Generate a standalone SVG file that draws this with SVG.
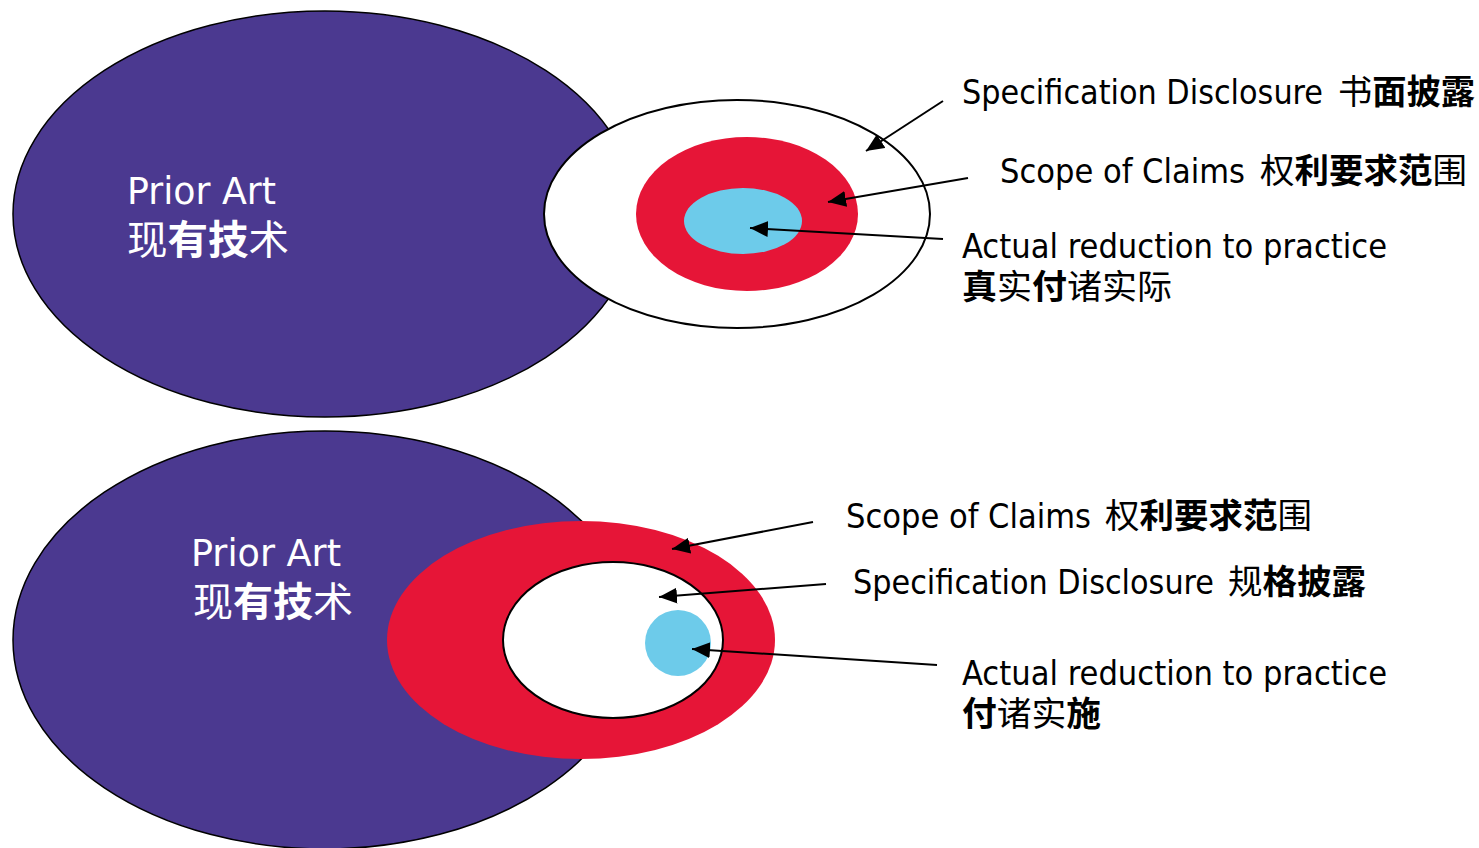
<svg xmlns="http://www.w3.org/2000/svg" width="1479" height="848" viewBox="0 0 1479 848">
<defs>
<style>
.purple{fill:#4B3990;stroke:#000;stroke-width:1.5}
.white{fill:#fff;stroke:#000;stroke-width:2}
.red{fill:#E61537}
.blue{fill:#6DCBEA}
.lbl{font-family:"DejaVu Sans Condensed","DejaVu Sans","Noto Sans CJK SC",sans-serif;font-size:34px;fill:#000}
.cjk{font-family:"Noto Sans CJK SC",sans-serif;font-size:34px}
.w{fill:#fff}
.pa{font-size:37px}
.pc{font-size:40px}
.b{font-weight:bold}
.conn line{stroke:#000;stroke-width:2;marker-end:url(#ah)}
</style>
<marker id="ah" markerUnits="userSpaceOnUse" markerWidth="20" markerHeight="18" refX="18" refY="8" orient="auto">
<path d="M0,0 L18,8 L0,16 Z" fill="#000"/>
</marker>
</defs>
<rect width="1479" height="848" fill="#fff"/>

<g id="top-diagram">
<g id="top-prior-art">
<ellipse class="purple" cx="325" cy="214" rx="312" ry="203"/>
<text class="lbl w"><tspan class="pa" x="127" y="204" textLength="149" lengthAdjust="spacingAndGlyphs">Prior Art</tspan><tspan class="cjk pc" x="127" y="254" textLength="162" lengthAdjust="spacingAndGlyphs">现<tspan class="b">有技</tspan>术</tspan></text>
</g>
<g id="top-spec">
<ellipse class="white" cx="737" cy="214" rx="193" ry="114"/>
</g>
<g id="top-claims">
<ellipse class="red" cx="747" cy="214" rx="111" ry="77"/>
</g>
<g id="top-practice">
<ellipse class="blue" cx="743" cy="221" rx="59" ry="33"/>
</g>
</g>

<g id="bottom-diagram">
<g id="bottom-prior-art">
<ellipse class="purple" cx="325" cy="640" rx="312" ry="209"/>
<text class="lbl w"><tspan class="pa" x="191" y="566" textLength="150" lengthAdjust="spacingAndGlyphs">Prior Art</tspan><tspan class="cjk pc" x="193" y="616" textLength="160" lengthAdjust="spacingAndGlyphs">现<tspan class="b">有技</tspan>术</tspan></text>
</g>
<g id="bottom-claims">
<ellipse class="red" cx="581" cy="640" rx="194" ry="119"/>
</g>
<g id="bottom-spec">
<ellipse class="white" cx="613" cy="640" rx="110" ry="78"/>
</g>
<g id="bottom-practice">
<circle class="blue" cx="678" cy="643" r="33"/>
</g>
</g>

<g id="connectors" class="conn">
<line x1="943" y1="101" x2="866" y2="151"/>
<line x1="968" y1="178" x2="828" y2="202"/>
<line x1="943" y1="239" x2="750" y2="228"/>
<line x1="813" y1="522" x2="672" y2="549"/>
<line x1="826" y1="584" x2="659" y2="597"/>
<line x1="937" y1="665" x2="692" y2="649"/>
</g>

<g id="labels-top">
<text class="lbl"><tspan x="962" y="104" textLength="361" lengthAdjust="spacingAndGlyphs">Specification Disclosure</tspan><tspan class="cjk" x="1338" y="104" textLength="137" lengthAdjust="spacingAndGlyphs">书<tspan class="b">面披露</tspan></tspan></text>
<text class="lbl"><tspan x="1000" y="183" textLength="245" lengthAdjust="spacingAndGlyphs">Scope of Claims</tspan><tspan class="cjk" x="1260" y="183" textLength="207" lengthAdjust="spacingAndGlyphs">权<tspan class="b">利要求范</tspan>围</tspan></text>
<text class="lbl"><tspan x="962" y="258" textLength="425" lengthAdjust="spacingAndGlyphs">Actual reduction to practice</tspan><tspan class="cjk" x="962" y="299" textLength="210" lengthAdjust="spacingAndGlyphs"><tspan class="b">真</tspan>实<tspan class="b">付</tspan>诸实际</tspan></text>
</g>

<g id="labels-bottom">
<text class="lbl"><tspan x="846" y="528" textLength="245" lengthAdjust="spacingAndGlyphs">Scope of Claims</tspan><tspan class="cjk" x="1105" y="528" textLength="207" lengthAdjust="spacingAndGlyphs">权<tspan class="b">利要求范</tspan>围</tspan></text>
<text class="lbl"><tspan x="853" y="594" textLength="361" lengthAdjust="spacingAndGlyphs">Specification Disclosure</tspan><tspan class="cjk" x="1228" y="594" textLength="138" lengthAdjust="spacingAndGlyphs">规<tspan class="b">格披露</tspan></tspan></text>
<text class="lbl"><tspan x="962" y="685" textLength="425" lengthAdjust="spacingAndGlyphs">Actual reduction to practice</tspan><tspan class="cjk" x="962" y="726" textLength="139" lengthAdjust="spacingAndGlyphs"><tspan class="b">付</tspan>诸实<tspan class="b">施</tspan></tspan></text>
</g>
</svg>
